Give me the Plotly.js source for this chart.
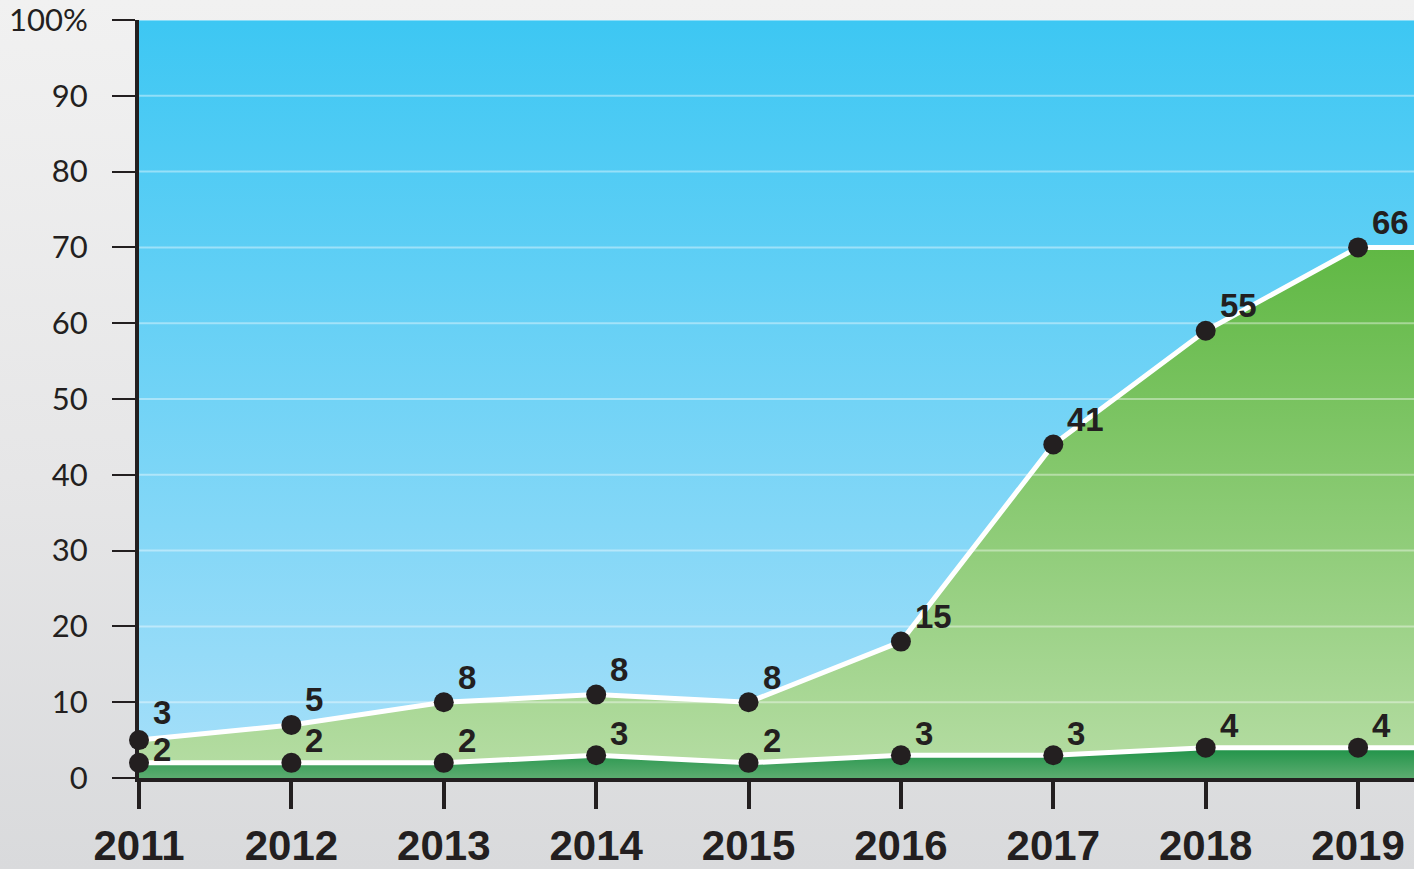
<!DOCTYPE html>
<html>
<head>
<meta charset="utf-8">
<script src="https://cdn.plot.ly/plotly-3.0.1.min.js"></script>
<style>
  html, body { margin: 0; padding: 0; }
  body { width: 1414px; height: 869px; background: linear-gradient(to bottom, #f1f1f1 0%, #e6e6e7 55%, #d9dadc 100%); overflow: hidden; }
  #chart { width: 1414px; height: 869px; }
</style>
</head>
<body>
<div id="chart"></div>
<script>
// ---- data ----
const years = [2011, 2012, 2013, 2014, 2015, 2016, 2017, 2018, 2019];
const lowerSeries = [2, 2, 2, 3, 2, 3, 3, 4, 4];        // dark green band
const upperSeries = [3, 5, 8, 8, 8, 15, 41, 55, 66];    // light green band (stacked on top)
const yTickVals = [0, 10, 20, 30, 40, 50, 60, 70, 80, 90, 100];
const yTickText = ['0', '10', '20', '30', '40', '50', '60', '70', '80', '90', '100%'];
const xTickText = ['2011', '2012', '2013', '2014', '2015', '2016', '2017', '2018', '2019'];

// ---- derived ----
const stacked = lowerSeries.map((v, i) => v + upperSeries[i]);
const xRange = [2011, 2019.367];
// carry the last value flat to the right edge of the plot
const xExt = years.concat([years[years.length - 1] + 1]);
const ext = arr => arr.concat([arr[arr.length - 1]]);
const lowerExt = ext(lowerSeries);
const stackedExt = ext(stacked);

const ink = '#231f20';
const traces = [];

// plot background (blue vertical gradient)
traces.push({
  x: xExt, y: xExt.map(() => 100), type: 'scatter', mode: 'lines',
  line: { width: 0 }, fill: 'tozeroy',
  fillgradient: { type: 'vertical', start: 0, stop: 100,
    colorscale: [[0, '#a6dff9'], [1, '#3dc7f3']] },
  hoverinfo: 'skip', showlegend: false
});
// lower band
traces.push({
  x: xExt, y: lowerExt, type: 'scatter', mode: 'lines',
  line: { width: 0 }, fill: 'tozeroy',
  fillgradient: { type: 'vertical', start: 0, stop: 4,
    colorscale: [[0, '#5cac70'], [1, '#1f9348']] },
  hoverinfo: 'skip', showlegend: false
});
// upper band
traces.push({
  x: xExt, y: stackedExt, type: 'scatter', mode: 'lines',
  line: { width: 0 }, fill: 'tonexty',
  fillgradient: { type: 'vertical', start: 0, stop: 70,
    colorscale: [[0, '#b6dda4'], [1, '#60b844']] },
  hoverinfo: 'skip', showlegend: false
});
// grid lines (drawn above the fills)
yTickVals.filter(v => v > 0).forEach(v => {
  traces.push({
    x: [xRange[0], xExt[xExt.length - 1]], y: [v, v], type: 'scatter', mode: 'lines',
    line: { width: 2, color: 'rgba(255,255,255,0.4)' },
    hoverinfo: 'skip', showlegend: false
  });
});
// white lines
[lowerExt, stackedExt].forEach(arr => {
  traces.push({
    x: xExt, y: arr, type: 'scatter', mode: 'lines',
    line: { width: 5, color: '#ffffff' },
    hoverinfo: 'skip', showlegend: false
  });
});
// markers
[lowerSeries, stacked].forEach(arr => {
  traces.push({
    x: years, y: arr, type: 'scatter', mode: 'markers',
    marker: { size: 20, color: ink },
    cliponaxis: false, hoverinfo: 'skip', showlegend: false
  });
});

const annotations = [];
const labelFont = { family: 'Liberation Sans, Arial, sans-serif', size: 33, color: ink, weight: 700 };
years.forEach((yr, i) => {
  // when the two markers sit close together, spread their labels apart
  const tight = upperSeries[i] < 4;
  annotations.push({ x: yr, y: lowerSeries[i], text: String(lowerSeries[i]), showarrow: false,
    xanchor: 'left', yanchor: 'middle', xshift: 12, yshift: tight ? 13 : 22, font: labelFont });
  annotations.push({ x: yr, y: stacked[i], text: String(upperSeries[i]), showarrow: false,
    xanchor: 'left', yanchor: 'middle', xshift: 12, yshift: tight ? 28 : 25, font: labelFont });
});

const layout = {
  width: 1414, height: 869,
  margin: { l: 139, r: 0, t: 20, b: 91, pad: 0 },
  paper_bgcolor: 'rgba(0,0,0,0)',
  plot_bgcolor: 'rgba(0,0,0,0)',
  hovermode: false,
  showlegend: false,
  xaxis: {
    type: 'linear', range: xRange, fixedrange: true,
    tickmode: 'array', tickvals: years, ticktext: xTickText,
    showgrid: false, zeroline: false,
    showline: true, linecolor: ink, linewidth: 4,
    ticks: 'outside', ticklen: 27, tickwidth: 4, tickcolor: ink,
    ticklabelstandoff: 1, ticklabeloverflow: 'allow',
    tickfont: { family: 'Liberation Sans, Arial, sans-serif', size: 42, color: ink, weight: 700 }
  },
  yaxis: {
    range: [0, 100], fixedrange: true,
    tickmode: 'array', tickvals: yTickVals, ticktext: yTickText,
    showgrid: false, zeroline: false,
    showline: true, linecolor: ink, linewidth: 4,
    ticks: 'outside', ticklen: 23, tickwidth: 2, tickcolor: ink,
    ticklabelstandoff: 18, ticklabeloverflow: 'allow',
    tickfont: { family: 'Lato, Liberation Sans, sans-serif', size: 31, color: ink }
  },
  annotations: annotations
};

Plotly.newPlot('chart', traces, layout, { staticPlot: true, displayModeBar: false });
</script>
</body>
</html>
